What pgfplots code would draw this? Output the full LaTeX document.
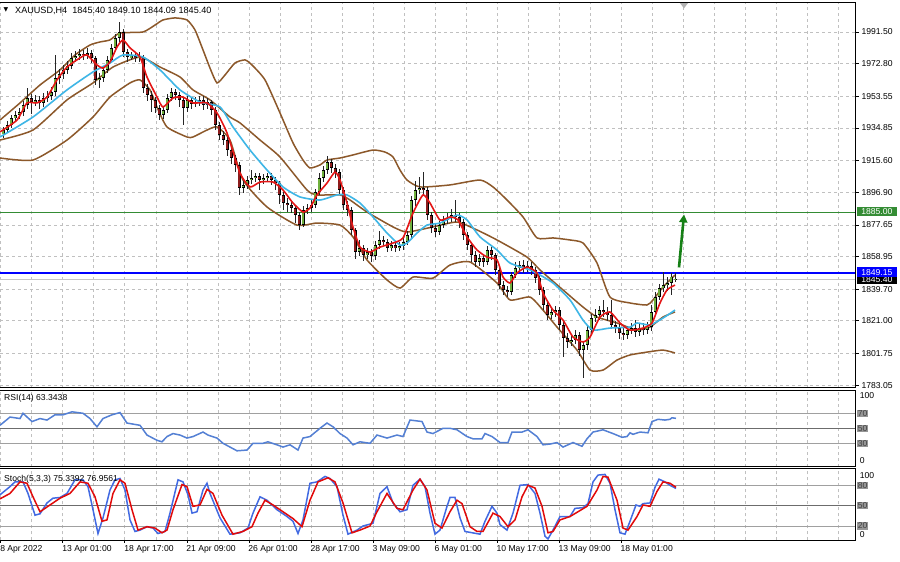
\documentclass[border=0pt]{standalone}
\usepackage{fontspec}
\setmainfont{Liberation Sans}
\newfontfamily\dejavu{DejaVu Sans}
\usepackage{pgfplots}
\pgfplotsset{compat=1.18}
\usepackage{pgfplotstable}
\usetikzlibrary{arrows.meta}
\definecolor{bandbrown}{RGB}{140,88,42}
\definecolor{macyan}{RGB}{62,182,230}
\definecolor{mared}{RGB}{228,22,22}
\definecolor{bullgreen}{RGB}{112,176,62}
\definecolor{bearred}{RGB}{140,28,28}
\definecolor{gridgray}{RGB}{192,192,192}
\definecolor{rsiblue}{RGB}{84,128,212}
\definecolor{stblue}{RGB}{66,106,226}
\definecolor{stred}{RGB}{225,10,10}
\definecolor{lvlgreen}{RGB}{52,140,52}
\definecolor{arrowgreen}{RGB}{22,128,22}
\definecolor{lvlgray}{RGB}{160,160,160}
\definecolor{boxgray}{RGB}{150,150,150}

\pgfplotstableread{
x o h l c
3 1931.0 1935.5 1929.0 1933.6
7 1933.6 1938.9 1931.8 1936.6
11 1936.6 1942.5 1935.0 1940.7
15 1940.7 1945.0 1938.6 1942.5
19 1942.5 1946.8 1940.1 1944.3
23 1944.3 1950.9 1942.0 1948.4
27 1948.4 1958.4 1946.2 1952.5
31 1952.5 1955.0 1943.0 1950.2
35 1950.2 1954.0 1947.8 1951.4
39 1951.4 1953.5 1946.0 1949.6
43 1949.6 1955.2 1947.5 1952.5
47 1952.5 1956.5 1950.3 1953.7
51 1953.7 1959.0 1951.5 1956.1
55 1956.1 1977.9 1954.0 1964.3
59 1964.3 1969.5 1960.5 1966.7
63 1966.7 1972.0 1963.8 1969.1
67 1969.1 1974.5 1966.5 1971.4
71 1971.4 1979.0 1969.8 1976.2
75 1976.2 1980.0 1973.5 1977.3
79 1977.3 1981.2 1975.0 1978.5
83 1978.5 1981.0 1975.2 1977.9
87 1977.9 1981.8 1975.5 1979.1
91 1979.1 1981.0 1973.0 1976.2
95 1976.2 1977.5 1960.0 1963.2
99 1963.2 1967.0 1958.5 1964.3
103 1964.3 1971.5 1962.0 1969.1
107 1969.1 1977.5 1967.5 1975.0
111 1975.0 1984.5 1973.5 1982.1
115 1982.1 1990.5 1980.0 1988.0
119 1988.0 1997.4 1985.5 1991.5
123 1991.5 1993.0 1977.0 1979.7
127 1979.7 1981.5 1974.0 1976.7
131 1976.7 1979.5 1974.8 1977.3
135 1977.3 1979.0 1973.5 1976.2
139 1976.2 1979.5 1974.0 1976.7
143 1976.7 1978.0 1955.5 1958.4
147 1958.4 1961.0 1951.0 1954.3
151 1954.3 1956.5 1944.0 1951.4
155 1951.4 1953.0 1943.5 1946.6
159 1946.6 1948.5 1939.5 1942.5
163 1942.5 1947.5 1940.0 1945.4
167 1945.4 1955.0 1943.5 1952.5
171 1952.5 1958.5 1950.5 1956.1
175 1956.1 1958.0 1951.5 1954.3
179 1954.3 1956.0 1947.0 1951.4
183 1951.4 1953.0 1936.6 1946.6
187 1946.6 1953.5 1944.5 1951.4
191 1951.4 1953.0 1946.0 1949.0
195 1949.0 1953.0 1947.0 1950.2
199 1950.2 1954.0 1948.0 1951.4
203 1951.4 1953.5 1945.5 1948.4
207 1948.4 1952.5 1946.0 1950.2
211 1950.2 1951.5 1942.5 1945.4
215 1945.4 1947.0 1933.5 1936.6
219 1936.6 1938.5 1927.5 1930.7
223 1930.7 1933.0 1924.5 1927.7
227 1927.7 1929.5 1918.5 1921.8
231 1921.8 1923.5 1913.5 1917.1
235 1917.1 1919.0 1909.0 1913.0
239 1913.0 1914.5 1895.0 1899.4
243 1899.4 1905.0 1896.5 1901.2
247 1901.2 1906.5 1898.5 1904.1
251 1904.1 1910.0 1901.5 1905.3
255 1905.3 1908.5 1903.0 1906.5
259 1906.5 1908.5 1898.0 1904.1
263 1904.1 1907.5 1901.5 1905.3
267 1905.3 1908.5 1903.0 1906.5
271 1906.5 1908.0 1901.0 1904.1
275 1904.1 1906.0 1898.5 1902.3
279 1902.3 1903.5 1890.0 1895.3
283 1895.3 1897.0 1886.5 1890.5
287 1890.5 1893.5 1885.5 1889.4
291 1889.4 1892.0 1884.5 1887.6
295 1887.6 1889.5 1878.5 1883.4
299 1883.4 1885.5 1874.6 1877.5
303 1877.5 1888.5 1876.5 1886.4
307 1886.4 1890.0 1884.0 1887.6
311 1887.6 1892.5 1885.5 1889.4
315 1889.4 1899.0 1887.5 1897.0
319 1897.0 1908.0 1895.0 1905.3
323 1905.3 1912.5 1903.0 1910.0
327 1910.0 1918.0 1907.5 1914.7
331 1914.7 1916.5 1908.5 1911.2
335 1911.2 1913.5 1905.5 1908.8
339 1908.8 1910.5 1895.5 1898.2
343 1898.2 1900.0 1886.5 1889.4
347 1889.4 1891.5 1883.0 1886.4
351 1886.4 1888.0 1871.5 1874.6
355 1874.6 1876.0 1857.5 1861.6
359 1861.6 1868.5 1859.0 1864.0
363 1864.0 1866.0 1856.5 1859.8
367 1859.8 1864.0 1857.5 1861.6
371 1861.6 1863.5 1856.0 1859.2
375 1859.2 1868.0 1857.0 1865.7
379 1865.7 1874.0 1863.5 1868.7
383 1868.7 1871.0 1865.0 1867.5
387 1867.5 1869.5 1861.5 1864.0
391 1864.0 1868.0 1862.0 1865.7
395 1865.7 1867.5 1861.5 1864.0
399 1864.0 1867.5 1862.0 1865.1
403 1865.1 1870.0 1863.0 1867.5
407 1867.5 1874.0 1865.5 1871.6
411 1871.6 1894.5 1870.0 1892.3
415 1892.3 1903.5 1889.0 1898.2
419 1898.2 1906.0 1896.0 1899.4
423 1899.4 1908.8 1895.5 1898.2
427 1898.2 1900.0 1880.5 1883.4
431 1883.4 1885.5 1873.0 1875.8
435 1875.8 1878.5 1870.5 1873.4
439 1873.4 1880.0 1871.5 1877.5
443 1877.5 1883.0 1875.5 1880.5
447 1880.5 1884.5 1878.0 1881.7
451 1881.7 1887.0 1879.5 1883.4
455 1883.4 1892.3 1879.5 1882.3
459 1882.3 1884.5 1876.0 1879.3
463 1879.3 1881.0 1868.5 1871.6
467 1871.6 1873.5 1862.5 1865.7
471 1865.7 1867.5 1856.0 1859.8
475 1859.8 1862.0 1852.5 1855.7
479 1855.7 1860.5 1853.5 1858.0
483 1858.0 1860.0 1852.5 1855.7
487 1855.7 1865.0 1854.0 1862.8
491 1862.8 1864.5 1857.0 1859.8
495 1859.8 1861.0 1848.0 1851.0
499 1851.0 1852.5 1839.5 1842.1
503 1842.1 1844.5 1836.0 1839.2
507 1839.2 1841.5 1835.0 1838.0
511 1838.0 1850.0 1836.5 1848.0
515 1848.0 1855.5 1846.0 1852.1
519 1852.1 1856.5 1850.5 1853.9
523 1853.9 1857.0 1849.5 1852.1
527 1852.1 1856.0 1850.0 1853.3
531 1853.3 1855.5 1848.0 1851.0
535 1851.0 1853.0 1843.5 1846.2
539 1846.2 1848.0 1836.5 1839.2
543 1839.2 1841.0 1827.5 1830.3
547 1830.3 1832.0 1821.5 1824.4
551 1824.4 1829.0 1822.0 1826.2
555 1826.2 1830.0 1823.5 1827.3
559 1827.3 1829.0 1815.5 1818.5
563 1818.5 1820.5 1799.6 1810.8
567 1810.8 1813.5 1805.0 1808.5
571 1808.5 1812.5 1806.0 1809.6
575 1809.6 1815.5 1807.5 1812.6
579 1812.6 1814.5 1800.0 1803.7
583 1803.7 1809.0 1787.0 1806.7
587 1806.7 1818.0 1803.5 1815.5
591 1815.5 1825.0 1813.0 1822.6
595 1822.6 1828.0 1820.0 1824.4
599 1824.4 1830.0 1821.5 1827.3
603 1827.3 1833.5 1823.5 1826.2
607 1826.2 1829.0 1821.0 1824.4
611 1824.4 1833.0 1816.0 1818.5
615 1818.5 1821.0 1813.5 1816.7
619 1816.7 1819.0 1810.5 1813.8
623 1813.8 1816.5 1809.5 1812.6
627 1812.6 1818.0 1810.0 1815.5
631 1815.5 1819.5 1813.0 1816.7
635 1816.7 1821.5 1811.5 1814.4
639 1814.4 1819.0 1812.0 1816.7
643 1816.7 1819.5 1812.5 1815.5
647 1815.5 1820.0 1813.0 1817.5
651 1817.5 1830.5 1815.0 1826.2
655 1826.2 1838.0 1824.0 1835.0
659 1835.0 1843.0 1833.0 1840.3
663 1840.3 1849.5 1838.0 1842.1
667 1842.1 1847.0 1838.5 1843.3
671 1843.3 1849.5 1836.5 1847.0
675 1845.4 1849.1 1844.09 1845.4
}\candles

\pgfplotsset{
  panel/.style={
    scale only axis, width=855.7pt, xmin=0, xmax=855.7,
    anchor=north west, clip=false,
    axis line style={draw=none},
    major tick length=0pt, minor tick length=0pt,
    xtick={0.7,31.72,...,842}, xticklabels={},
    xmajorgrids,
    grid style={gridgray, dash pattern=on 3pt off 3pt, line width=0.6pt},
    ticklabel style={font=\fontsize{8.6}{10}\selectfont, inner sep=0pt},
    yticklabel pos=right, ytick pos=right,
  },
  candle/.style={draw=none, mark=none, unbounded coords=discard,
    error bars/y dir=both, error bars/y explicit, error bars/error mark=none},
}

\begin{document}
\begin{tikzpicture}[x=1pt,y=1pt]
\path[use as bounding box] (0,0) rectangle (900,-562);
\fill[white] (0,0) rectangle (900,-562);

% ---------------- main price panel ----------------
\begin{axis}[panel, at={(0pt,-2.5pt)}, height=385pt,
  ymin=1781.6, ymax=2008.9,
  ytick={1783.05,1801.75,1821.00,1839.70,1858.95,1877.65,1896.90,1915.60,1934.85,1953.55,1972.80,1991.50},
  yticklabels={1783.05,1801.75,1821.00,1839.70,1858.95,1877.65,1896.90,1915.60,1934.85,1953.55,1972.80,1991.50},
  ymajorgrids,
  yticklabel style={anchor=west, xshift=5.6pt},
]
% bid line
\addplot[draw=gray!45, line width=1pt] coordinates {(0,1845.4) (855.7,1845.4)};
% level lines
\addplot[draw=lvlgreen, line width=1.3pt] coordinates {(0,1885.0) (855.7,1885.0)};
\addplot[draw=blue, line width=1.6pt] coordinates {(0,1849.15) (855.7,1849.15)};

% bollinger-type bands (brown)
\addplot[bandbrown, line width=1.5pt, smooth, tension=0.35] coordinates {
(0,1939.5)(20,1949.6)(40,1960.2)(60,1969.1)(75,1977.9)(90,1983.8)(100,1985.6)(110,1986.8)(120,1990.9)(143,1991.5)(155,1995.6)(163,1998.6)(175,1999.8)(187,1998.6)(195,1992.7)(203,1980.9)(210,1970.2)(217,1961.4)(225,1966.1)(235,1973.2)(245,1975.0)(252,1972.0)(265,1963.2)(280,1943.7)(293,1926.0)(303,1915.9)(310,1911.2)(320,1913.0)(327,1915.9)(340,1917.1)(353,1918.9)(373,1921.8)(385,1920.6)(393,1917.7)(400,1910.0)(407,1904.1)(420,1900.0)(450,1901.2)(480,1904.1)(493,1900.0)(507,1892.3)(523,1882.3)(537,1869.9)(553,1869.9)(570,1868.7)(583,1866.9)(597,1855.1)(610,1835.0)(630,1831.5)(647,1830.3)(653,1833.3)(663,1840.9)(675,1848.0)};
\addplot[bandbrown, line width=1.5pt, smooth, tension=0.35] coordinates {
(0,1927.7)(33,1933.6)(67,1951.4)(93,1961.4)(113,1970.8)(140,1976.7)(160,1970.8)(180,1964.9)(193,1957.3)(210,1951.4)(230,1941.3)(240,1937.8)(260,1927.7)(280,1917.7)(307,1898.2)(317,1895.3)(340,1895.3)(350,1892.3)(367,1885.2)(393,1876.4)(407,1873.4)(433,1876.4)(457,1879.3)(477,1874.6)(497,1868.7)(527,1858.6)(540,1851.0)(563,1839.2)(583,1829.1)(597,1823.2)(617,1819.7)(637,1815.5)(650,1817.3)(663,1823.2)(675,1826.2)};
\addplot[bandbrown, line width=1.5pt, smooth, tension=0.35] coordinates {
(0,1917.1)(33,1915.9)(67,1927.7)(93,1941.3)(110,1953.1)(130,1961.4)(140,1963.2)(150,1957.3)(157,1947.2)(167,1935.4)(187,1929.5)(193,1929.5)(207,1933.6)(217,1935.4)(230,1927.7)(243,1904.1)(267,1888.2)(297,1877.5)(317,1878.7)(340,1877.5)(353,1870.5)(367,1856.9)(387,1845.1)(400,1840.3)(413,1846.8)(433,1846.2)(450,1853.9)(470,1855.7)(497,1843.3)(510,1833.3)(530,1835.0)(543,1827.3)(557,1817.3)(577,1803.7)(590,1791.9)(603,1791.9)(617,1797.8)(630,1800.8)(647,1802.5)(663,1803.7)(675,1802.0)};

% candles: wicks
\addplot[candle, error bars/error bar style={draw=black!85, line width=0.7pt}]
  table[x=x, y expr={(\thisrow{h}+\thisrow{l})/2}, y error expr={(\thisrow{h}-\thisrow{l})/2}] {\candles};
% bull bodies
\addplot[candle, error bars/error bar style={draw=black, line width=3pt}]
  table[x=x, y expr={\thisrow{c}>=\thisrow{o} ? (\thisrow{o}+\thisrow{c})/2 : nan}, y error expr={max(abs(\thisrow{c}-\thisrow{o})/2,0.45)}] {\candles};
\addplot[candle, error bars/error bar style={draw=bullgreen, line width=1.6pt}]
  table[x=x, y expr={\thisrow{c}>=\thisrow{o} ? (\thisrow{o}+\thisrow{c})/2 : nan}, y error expr={max(abs(\thisrow{c}-\thisrow{o})/2-0.4,0.05)}] {\candles};
% bear bodies
\addplot[candle, error bars/error bar style={draw=black, line width=3pt}]
  table[x=x, y expr={\thisrow{c}<\thisrow{o} ? (\thisrow{o}+\thisrow{c})/2 : nan}, y error expr={max(abs(\thisrow{c}-\thisrow{o})/2,0.45)}] {\candles};
\addplot[candle, error bars/error bar style={draw=bearred, line width=1.6pt}]
  table[x=x, y expr={\thisrow{c}<\thisrow{o} ? (\thisrow{o}+\thisrow{c})/2 : nan}, y error expr={max(abs(\thisrow{c}-\thisrow{o})/2-0.4,0.05)}] {\candles};

% slow MA (cyan)
\addplot[macyan, line width=1.6pt, smooth, tension=0.35] coordinates {
(0,1929.5)(33,1941.3)(67,1957.3)(93,1967.9)(110,1973.2)(123,1977.9)(143,1976.7)(160,1969.1)(180,1957.3)(200,1950.2)(220,1947.2)(233,1935.4)(250,1921.8)(267,1910.0)(283,1900.0)(300,1894.1)(320,1892.3)(337,1895.3)(347,1895.3)(360,1890.5)(373,1882.3)(387,1872.8)(400,1865.7)(407,1866.9)(417,1872.8)(427,1877.5)(440,1878.7)(457,1883.4)(467,1880.5)(480,1870.5)(497,1862.8)(510,1855.1)(530,1851.0)(540,1848.0)(553,1843.3)(570,1833.3)(583,1821.4)(593,1815.5)(610,1816.7)(630,1817.3)(637,1819.7)(650,1818.5)(663,1822.6)(675,1827.3)};
% fast MA (red)
\addplot[mared, line width=1.6pt, smooth, tension=0.35] coordinates {
(0,1932.5)(17,1939.5)(27,1949.6)(37,1949.6)(47,1953.1)(57,1963.2)(67,1970.8)(80,1976.2)(87,1977.9)(97,1972.0)(103,1970.2)(110,1973.8)(117,1982.6)(123,1986.8)(130,1982.1)(140,1976.7)(147,1964.9)(157,1953.1)(163,1947.2)(173,1952.5)(183,1953.1)(193,1949.6)(207,1949.6)(217,1943.7)(227,1931.9)(240,1908.2)(250,1900.0)(260,1902.9)(273,1902.9)(283,1898.2)(293,1890.5)(303,1885.2)(310,1887.6)(317,1895.3)(327,1902.3)(335,1908.8)(340,1904.1)(347,1890.5)(353,1876.4)(360,1864.5)(370,1861.6)(380,1864.5)(393,1866.9)(403,1869.9)(413,1884.6)(423,1895.3)(430,1890.5)(440,1880.5)(450,1882.3)(458,1880.5)(467,1870.5)(477,1862.8)(487,1858.6)(497,1856.9)(503,1846.8)(510,1843.3)(517,1849.2)(527,1852.7)(537,1849.2)(543,1837.4)(553,1827.3)(563,1821.4)(573,1811.4)(583,1808.5)(590,1811.4)(600,1823.2)(610,1826.2)(620,1819.7)(630,1815.5)(643,1816.7)(652,1819.7)(660,1831.5)(667,1839.2)(675,1842.1)};

% arrow
\draw[arrowgreen, line width=2.6pt, -{Triangle[length=8pt,width=8pt]}] (axis cs:679,1852.5) -- (axis cs:684,1883.8);
% shift marker
\fill[gray!60] (axis cs:679.5,2008.9) -- (axis cs:688.5,2008.9) -- (axis cs:684,2005.5) -- cycle;

% right tick marks
\pgfplotsinvokeforeach{1783.05,1801.75,1821.00,1839.70,1858.95,1877.65,1896.90,1915.60,1934.85,1953.55,1972.80,1991.50}{
  \draw[black, line width=0.6pt] (axis cs:855.7,#1) -- ++(3pt,0pt);
}

% price boxes
\node[anchor=west, fill=black, text=white, inner sep=0.8pt, minimum height=9.5pt, minimum width=40pt, font=\fontsize{8.6}{10}\selectfont] at (axis cs:856.7,1845.4) {1845.40};
\node[anchor=west, fill=blue, text=white, inner sep=0.8pt, minimum height=9.5pt, minimum width=40pt, font=\fontsize{8.6}{10}\selectfont] at (axis cs:856.7,1849.75) {1849.15};
\node[anchor=west, fill=lvlgreen, text=white, inner sep=0.8pt, minimum height=9.5pt, minimum width=40pt, font=\fontsize{8.6}{10}\selectfont] at (axis cs:856.7,1885.5) {1885.00};

% borders
\draw[black, line width=0.8pt] (rel axis cs:0,1) -- (rel axis cs:1,1) -- (rel axis cs:1,0) -- (rel axis cs:0,0);
\end{axis}

% title
\node[anchor=west, inner sep=0pt, font=\dejavu\fontsize{6}{7}\selectfont] at (3.5,-10.2) {▼};
\node[anchor=west, inner sep=0pt, font=\fontsize{9.1}{11}\selectfont] at (15,-10.5) {XAUUSD,H4\ \ 1845.40 1849.10 1844.09 1845.40};

% ---------------- RSI panel ----------------
\begin{axis}[panel, at={(0pt,-390.5pt)}, height=76pt,
  ymin=-0.93, ymax=100.4, ytick=\empty,
]
\addplot[lvlgray, line width=1pt] coordinates {(0,70) (855.7,70)};
\addplot[gray!85!black, line width=1pt] coordinates {(0,50) (855.7,50)};
\addplot[lvlgray, line width=1pt] coordinates {(0,30) (855.7,30)};
\addplot[rsiblue, line width=1.5pt] coordinates {
(0,54)(10,65)(20,63)(23,70)(32,59)(40,63)(47,61)(55,68)(63,68)(72,72)(83,70)(90,63)(97,52)(103,63)(112,68)(120,71)(127,57)(140,54)(147,41)(157,34)(162,32)(167,39)(173,43)(180,41)(187,37)(193,39)(203,45)(208,41)(217,37)(223,30)(230,25)(237,20)(247,21)(253,30)(263,30)(268,32)(277,28)(283,25)(290,28)(298,21)(303,37)(310,39)(320,50)(327,57)(333,52)(340,43)(347,37)(353,28)(360,32)(370,30)(377,41)(387,37)(397,41)(403,39)(410,61)(422,59)(427,45)(433,43)(443,50)(450,50)(457,48)(467,39)(473,36)(482,36)(485,43)(492,39)(500,31)(508,31)(512,45)(522,45)(528,48)(537,39)(543,28)(550,29)(557,31)(563,25)(573,31)(582,26)(587,36)(593,45)(603,48)(613,43)(622,38)(627,39)(630,44)(633,42)(640,45)(648,44)(652,59)(658,62)(665,61)(670,62)(672,64)(676,63.3)};
\node[anchor=west, inner sep=0pt, font=\fontsize{8.6}{10}\selectfont] at (rel axis cs:0,1) [xshift=4pt, yshift=-7.5pt] {RSI(14) 63.3438};
\node[anchor=west, inner sep=0pt, font=\fontsize{8.6}{10}\selectfont] at (axis cs:855.7,94) [xshift=4pt] {100};
\node[anchor=west, inner sep=0pt, font=\fontsize{8.6}{10}\selectfont] at (axis cs:855.7,7.3) [xshift=4pt] {0};
\pgfplotsinvokeforeach{70,50,30}{
  \node[anchor=west, fill=boxgray, text=black!75, inner sep=0.6pt, font=\fontsize{8.6}{10}\selectfont] at (axis cs:857,#1) {#1};
}
\draw[black, line width=0.8pt] (rel axis cs:0,1) -- (rel axis cs:1,1) -- (rel axis cs:1,0) -- (rel axis cs:0,0);
\end{axis}

% ---------------- Stochastic panel ----------------
\begin{axis}[panel, at={(0pt,-468.7pt)}, height=71.6pt,
  ymin=-1.03, ymax=104.4, ytick=\empty,
  xticklabels={8 Apr 2022,,13 Apr 01:00,,18 Apr 17:00,,21 Apr 09:00,,26 Apr 01:00,,28 Apr 17:00,,3 May 09:00,,6 May 01:00,,10 May 17:00,,13 May 09:00,,18 May 01:00,,,,,,,},
  xticklabel style={anchor=north west, xshift=-0.6pt, yshift=-4.5pt},
]
\addplot[lvlgray, line width=1pt] coordinates {(0,80) (855.7,80)};
\addplot[gray!85!black, line width=1pt] coordinates {(0,50) (855.7,50)};
\addplot[lvlgray, line width=1pt] coordinates {(0,20) (855.7,20)};
\addplot[stblue, line width=1.5pt] coordinates {
(0,66)(10,78)(15,85)(23,85)(28,68)(35,36)(40,38)(47,54)(53,61)(60,62)(67,68)(75,88)(83,88)(88,78)(93,44)(98,9)(103,32)(110,73)(115,88)(120,90)(125,73)(130,29)(135,12)(140,14)(147,19)(153,17)(158,9)(165,12)(170,39)(178,88)(183,85)(188,66)(192,39)(197,41)(203,73)(207,83)(210,68)(220,32)(230,8)(240,10)(248,17)(253,39)(260,63)(267,58)(277,44)(287,34)(293,27)(298,9)(303,29)(310,83)(317,85)(325,93)(330,90)(337,78)(343,36)(348,8)(357,14)(363,20)(373,24)(380,68)(387,78)(393,54)(400,41)(407,44)(413,80)(420,89)(425,78)(430,39)(435,8)(440,14)(447,49)(450,62)(455,62)(460,32)(465,12)(480,8)(485,27)(492,49)(497,39)(500,22)(507,14)(513,39)(520,80)(528,81)(535,68)(540,39)(545,5)(548,1)(553,14)(560,34)(570,34)(575,46)(583,47)(588,53)(593,85)(598,95)(605,96)(610,83)(615,44)(620,10)(625,8)(630,27)(636,51)(640,49)(643,53)(650,54)(655,77)(659,89)(665,85)(670,80)(676,75.3)};
\addplot[stred, line width=1.5pt] coordinates {
(0,60)(10,68)(20,85)(27,83)(33,63)(40,41)(50,51)(60,61)(70,68)(80,85)(88,83)(95,63)(102,27)(107,29)(113,68)(120,88)(125,83)(132,44)(138,14)(147,19)(155,17)(162,10)(167,14)(173,44)(182,81)(187,78)(193,49)(200,51)(207,74)(213,68)(222,36)(233,8)(243,12)(252,19)(258,39)(265,58)(273,51)(283,41)(293,31)(302,19)(310,58)(318,85)(328,91)(335,85)(343,54)(352,10)(360,14)(370,20)(377,41)(387,68)(397,46)(403,44)(413,73)(420,89)(427,73)(435,24)(442,17)(450,41)(457,58)(462,53)(470,19)(477,12)(483,12)(493,39)(500,34)(508,19)(515,29)(522,63)(528,80)(535,76)(542,49)(548,10)(553,12)(560,29)(570,34)(578,41)(587,49)(597,73)(603,93)(608,92)(617,58)(623,17)(628,14)(637,34)(643,51)(650,49)(657,71)(663,85)(670,83)(676,77)};
\node[anchor=west, inner sep=0pt, font=\fontsize{8.6}{10}\selectfont] at (rel axis cs:0,1) [xshift=4pt, yshift=-10.5pt] {Stoch(5,3,3) 75.3392 76.9561};
\node[anchor=west, inner sep=0pt, font=\fontsize{8.6}{10}\selectfont] at (axis cs:855.7,93.8) [xshift=4pt] {100};
\node[anchor=west, inner sep=0pt, font=\fontsize{8.6}{10}\selectfont] at (axis cs:855.7,7.8) [xshift=4pt] {0};
\pgfplotsinvokeforeach{80,50,20}{
  \node[anchor=west, fill=boxgray, text=black!75, inner sep=0.6pt, font=\fontsize{8.6}{10}\selectfont] at (axis cs:857,#1) {#1};
}
\pgfplotsinvokeforeach{0.7,62.74,124.78,186.82,248.86,310.9,372.94,434.98,497.02,559.06,621.1}{
  \draw[black, line width=0.6pt] (axis cs:#1,-1.03) -- ++(0pt,-3pt);
}
\draw[black, line width=0.8pt] (rel axis cs:0,1) -- (rel axis cs:1,1) -- (rel axis cs:1,0) -- (rel axis cs:0,0);
\end{axis}
\end{tikzpicture}
\end{document}
